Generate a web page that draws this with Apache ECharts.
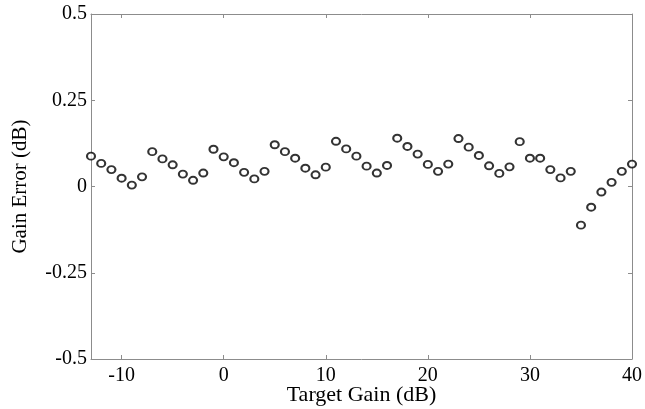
<!DOCTYPE html>
<html>
<head>
<meta charset="utf-8">
<script src="https://cdn.jsdelivr.net/npm/echarts@6/dist/echarts.min.js"></script>
<style>
  html, body { margin: 0; padding: 0; background: #fff; }
  #chart { width: 645px; height: 409px; }
</style>
</head>
<body>
<div id="chart"></div>
<script>
  // target gain (dB) and measured gain error (dB)
  var targetGain = [-13, -12, -11, -10, -9, -8, -7, -6, -5, -4, -3, -2, -1, 0, 1, 2, 3, 4, 5, 6,
    7, 8, 9, 10, 11, 12, 13, 14, 15, 16, 17, 18, 19, 20, 21, 22, 23, 24, 25, 26,
    27, 28, 29, 30, 31, 32, 33, 34, 35, 36, 37, 38, 39, 40];
  var gainError = [0.088, 0.067, 0.049, 0.024, 0.004, 0.028, 0.101, 0.080, 0.063, 0.036,
    0.018, 0.039, 0.108, 0.086, 0.069, 0.041, 0.022, 0.044, 0.121, 0.101,
    0.082, 0.053, 0.034, 0.056, 0.131, 0.109, 0.088, 0.059, 0.039, 0.061,
    0.140, 0.116, 0.094, 0.064, 0.044, 0.065, 0.139, 0.114, 0.090, 0.060,
    0.038, 0.057, 0.130, 0.082, 0.082, 0.049, 0.025, 0.044, -0.112, -0.060,
    -0.016, 0.012, 0.044, 0.065];
  var xTicks = [-10, 0, 10, 20, 30, 40];

  var points = targetGain.map(function (x, i) { return [x, gainError[i]]; });

  var font = 'Liberation Serif, Times New Roman, serif';
  var lineColor = '#8c8c8c';

  var chart = echarts.init(document.getElementById('chart'));
  var option = {
    animation: false,
    backgroundColor: '#fff',
    grid: { left: 91, right: 13, top: 14, bottom: 50, outerBoundsMode: 'none', containLabel: false },
    xAxis: [{
      type: 'value',
      min: -13,
      max: 40,
      name: 'Target Gain (dB)',
      nameLocation: 'middle',
      nameGap: 25,
      nameMoveOverlap: false,
      nameTextStyle: { fontFamily: font, fontSize: 22, color: '#000' },
      axisLine: { show: true, onZero: false, lineStyle: { color: lineColor, width: 1 } },
      axisTick: { show: true, inside: true, length: 4, customValues: xTicks, lineStyle: { color: lineColor } },
      axisLabel: { customValues: xTicks, margin: 7, fontFamily: font, fontSize: 20, color: '#000' },
      splitLine: { show: false }
    }, {
      type: 'value',
      position: 'top',
      min: -13,
      max: 40,
      axisLine: { show: true, onZero: false, lineStyle: { color: lineColor, width: 1 } },
      axisTick: { show: true, inside: true, length: 4, customValues: xTicks, lineStyle: { color: lineColor } },
      axisLabel: { show: false },
      splitLine: { show: false }
    }],
    yAxis: [{
      type: 'value',
      min: -0.5,
      max: 0.5,
      interval: 0.25,
      name: 'Gain Error (dB)',
      nameLocation: 'middle',
      nameGap: 60,
      nameMoveOverlap: false,
      nameTextStyle: { fontFamily: font, fontSize: 21, color: '#000' },
      axisLine: { show: true, onZero: false, lineStyle: { color: lineColor, width: 1 } },
      axisTick: { show: true, inside: true, length: 4, lineStyle: { color: lineColor } },
      axisLabel: { margin: 4, fontFamily: font, fontSize: 20, color: '#000' },
      splitLine: { show: false }
    }, {
      type: 'value',
      position: 'right',
      min: -0.5,
      max: 0.5,
      interval: 0.25,
      axisLine: { show: true, onZero: false, lineStyle: { color: lineColor, width: 1 } },
      axisTick: { show: true, inside: true, length: 4, lineStyle: { color: lineColor } },
      axisLabel: { show: false },
      splitLine: { show: false }
    }],
    series: [{
      type: 'scatter',
      data: points,
      symbol: 'circle',
      symbolSize: [8, 7],
      itemStyle: { color: '#fff', borderColor: '#000', borderWidth: 2 }
    }]
  };
  chart.setOption(option);
</script>
</body>
</html>
